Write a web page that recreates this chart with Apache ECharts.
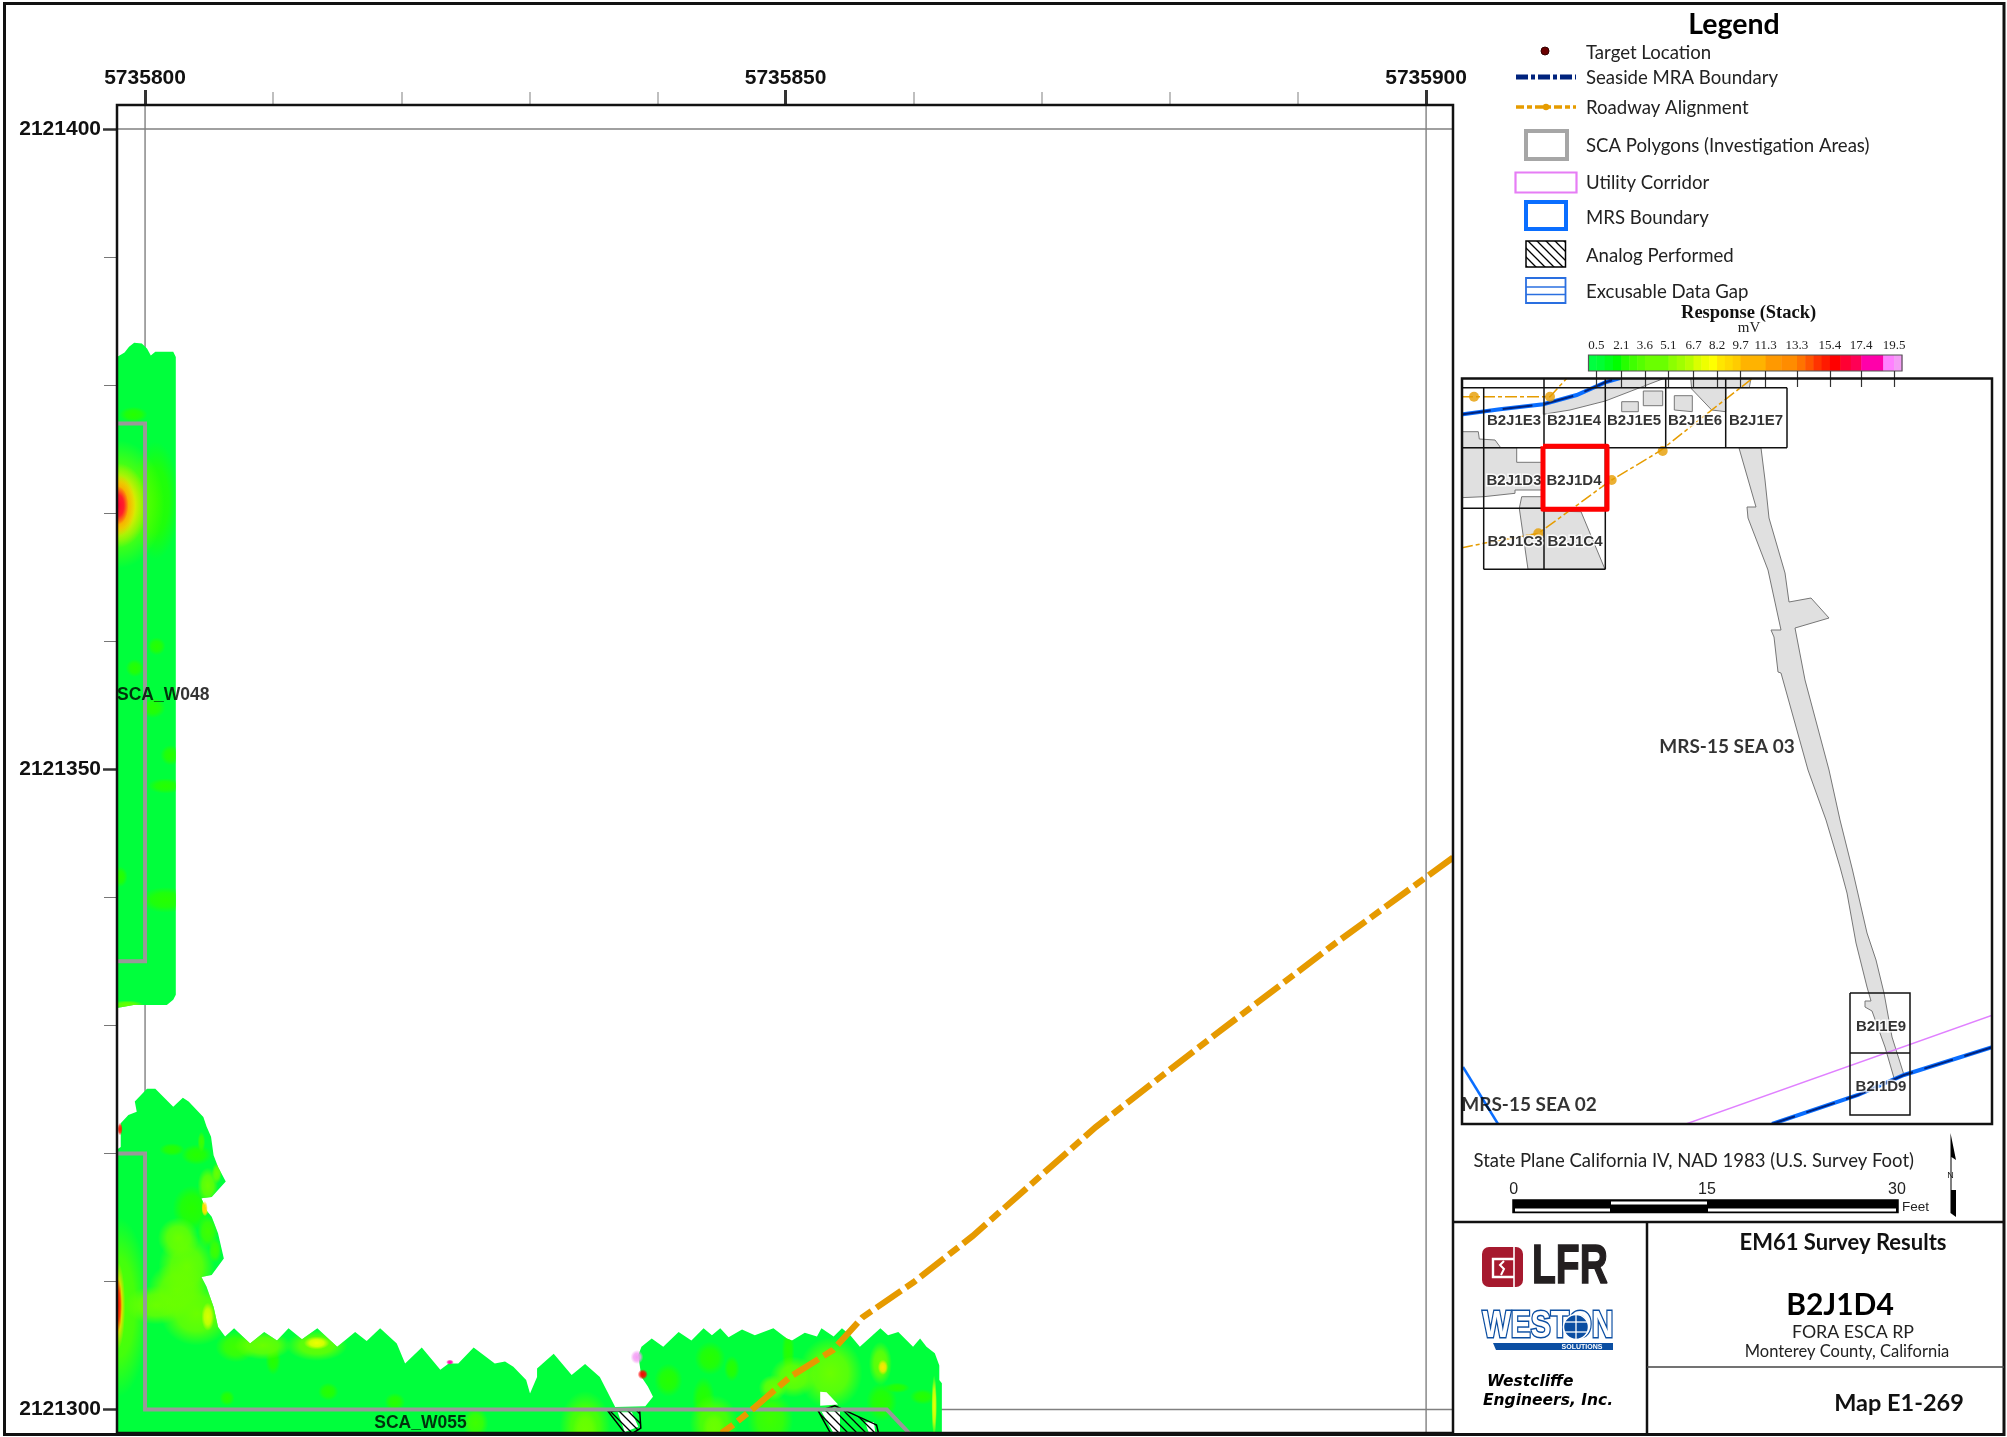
<!DOCTYPE html>
<html><head><meta charset="utf-8">
<style>html,body{margin:0;padding:0;background:#fff}#c{width:2007px;height:1437px}</style>
<script src="https://cdn.jsdelivr.net/npm/echarts@6/dist/echarts.min.js"></script>
</head><body><div id="c"></div>
<script>
// ---------- data: main map, feet relative to the tick origin ----------
const X0 = 5735800, Y0 = 2121300;
const xMajorTicks = [5735800, 5735850, 5735900];
const xMinorTicks = [5735810, 5735820, 5735830, 5735840, 5735860, 5735870, 5735880, 5735890];
const yMajorTicks = [2121300, 2121350, 2121400];
const yMinorTicks = [2121310, 2121320, 2121330, 2121340, 2121360, 2121370, 2121380, 2121390];
const gridLinesFt = [[[0,-1.83],[0,101.87]], [[100,-1.83],[100,101.87]], [[-2.19,100],[102.1,100]], [[-2.19,0],[102.1,0]]];

const surveyStrip = [[-2.19,82.2],[-1.6,82.55],[-1.25,83],[-0.85,83.3],[-0.25,83.25],[0.15,82.85],[0.45,82.3],[0.8,82.6],[2.2,82.6],[2.4,82.2],[2.4,32.4],[2.2,32],[1.7,31.6],[-0.9,31.6],[-2.19,31.35]];
const surveyL = [[-2.19,20.3],[-1.9,20.5],[-1.9,22.35],[-1.3,23],[-0.65,23.25],[-0.8,24.05],[0.15,25.05],[0.8,25.05],[2.2,23.65],[2.95,24.35],[3.4,24.05],[4.55,22.85],[4.8,22.1],[5.15,21.3],[5.35,19.85],[5.7,18.95],[6.3,17.8],[5.2,16.6],[4.4,16.5],[4.8,15.55],[5.2,15.05],[5.7,13.75],[6.15,11.8],[5.2,10.5],[4.4,10.35],[4.8,9.6],[5.35,8],[5.7,6.45],[6.25,5.7],[6.95,6.35],[8.2,5.15],[9.3,6.05],[10.3,5.4],[11.2,6.35],[12.25,5.5],[13.45,6.35],[14.3,5.55],[15,4.9],[16.4,6.05],[17.3,5.35],[18.35,6.35],[19.65,5.15],[20.3,3.6],[21.6,4.85],[23.05,3.1],[23.7,3.6],[24.45,3.6],[25.65,4.85],[27.3,3.6],[28.1,3.75],[28.75,3.35],[29.75,2.3],[30.05,1.25],[30.6,2.55],[30.6,3.2],[31.9,4.35],[33.3,2.7],[34.35,3.55],[35.5,2.55],[36.7,0.2],[39.05,0.25],[39.65,1],[39.25,1.8],[38.75,2.55],[38.5,4.25],[38.75,4.9],[39.55,5.55],[40.45,4.9],[41.65,6.05],[42.65,5.4],[43.6,6.35],[44.25,5.8],[44.9,6.35],[45.55,5.65],[46.6,6.25],[47.6,5.8],[49.05,6.35],[50.1,5.55],[50.5,5.4],[51.5,6],[52.45,5.7],[52.8,6.35],[53.75,5.7],[54.4,6.35],[55.05,5.8],[55.8,4.9],[57.4,6.35],[58,5.8],[58.8,6.05],[59.95,4.9],[60.5,5.55],[61,4.9],[61.65,4.4],[62,3.45],[62,2.3],[62.2,2.05],[62.2,-1.83],[-2.19,-1.83]];
// response anomalies: centre x, centre y, radius x, radius y (feet), peak mV
const stripAnomalies = [[0.8,71,1.9,4.6,2.4],[-2.1,70.7,3.6,5,4.6],[-2.1,70.6,2.3,3.3,8.5],[-2.1,70.6,1.35,2.4,12],[-2.1,70.6,0.8,1.5,16.5],[-0.8,57.9,0.7,0.7,2.3],[0.9,59.6,0.7,0.7,2.3],[2,51.1,0.8,0.8,2.3],[1.6,48.7,1.4,0.6,2.3],[0.6,54.8,1,0.8,2.3],[1.6,39.8,2,1,2.3],[-1.95,41.6,0.6,0.8,2.3],[-0.9,77.7,1.1,0.6,2.3],[-1.4,31.6,1.3,0.35,5]];
const lAnomalies = [[-2.1,8,2.4,7,3.4],[-2.1,8.1,0.55,3.4,9],[-2.1,8.15,0.3,2.1,15],[3.25,11.15,2.2,2.6,4.2],[2.5,9.3,2.3,2.2,4.2],[4,7.5,2.8,2.5,4.4],[0.9,8.15,2.5,1.5,3.8],[2.6,13.4,1.6,1.6,4.2],[3.65,15.7,1.5,1.8,2.4],[4.9,13.9,0.8,1.3,2.7],[5.45,12.45,0.5,1,3],[4.9,17.5,0.8,1.4,4],[5.6,18.45,0.4,0.8,5],[4.7,15.8,0.3,0.7,8],[4,19.9,1.2,0.8,2.3],[2.1,20.3,1,0.5,2.3],[4.4,20.9,0.3,0.8,2.7],[4.9,7.25,0.5,1.1,7],[9.2,5,2.2,1.1,4.2],[7.1,4.9,1.6,1.2,2.7],[13.4,5,2.4,1.2,5],[13.4,5.2,1,0.5,7.5],[10,3.9,0.6,1.2,2.3],[14.3,1.4,0.8,0.7,2.3],[6.4,0.9,0.6,0.6,2.3],[19.5,0.6,0.8,0.7,2.3],[25.8,-1.05,1,1.2,2.7],[44.1,4,1.2,1.3,2.3],[40.85,2.3,1.1,1.3,2.3],[45.8,3.2,0.6,1,2.3],[34.35,-1.35,2,2.8,3.5],[34.35,-1.6,1,1.5,4.5],[44.4,-1.05,1.9,2.2,3.5],[44.4,-1.4,0.9,1.1,5],[48.8,-0.8,1.8,2.2,2.7],[43.6,0.75,0.9,1.8,2.4],[49,1.7,1.1,1,4.5],[50.6,2.55,1.8,1.6,4.2],[53.5,2.85,2.5,2.8,4],[57.4,3.6,0.9,1.7,4.5],[57.6,3.3,0.4,0.6,8.5],[61.6,0.3,0.22,2.4,7.5],[60.7,1,1,0.6,2.4],[57.5,0.6,1.2,1.5,2.4],[50.2,4.5,0.5,2,2.3],[58.7,1.7,1,0.4,2.4]];
const specks = [[-1.95,21.9,0.2,0.5,15],[23.8,3.7,0.3,0.2,18],[38.4,4.1,0.5,0.55,19.7],[38.85,2.75,0.4,0.4,15.5],[4.65,15.7,0.25,0.6,9]];
const surveyHoles = [[[52.7,0.3],[52.7,1.4],[53.2,1.35],[54.1,0.4]]];
const analogGaps = [[[36.9,-0.2],[38,-0.2],[38.5,-1.35],[37.45,-1.75]],[[52.8,-0.15],[54.25,-0.15],[54.25,-1.75],[53.7,-1.75]],[[56.2,-1],[56.9,-1],[57,-1.8],[56.5,-1.8]]];
const analogAreas = [[[36.15,-0.15],[38.6,0.05],[38.7,-1.45],[38.1,-1.83],[37.45,-1.83]],[[52.55,-0.1],[53.85,0.3],[57.1,-1.2],[57.25,-1.83],[53.5,-1.83]]];
const scaPolygons = [[[-2.19,77],[0,77],[0,35],[-2.19,35]],[[-2.19,20],[0,20],[0,0],[57.9,0],[59.7,-1.9]]];
const roadway = [[102.1,43.1],[92.7,36.25],[83.7,29.4],[74.2,22.05],[64.6,13.55],[60,9.95],[56,7.2],[53.7,4.65],[50.35,2.55],[47.5,0.1],[45.9,-1.2],[45,-1.83]];
const mapLabels = [[-2.19,55.8,'SCA_W048','left'],[21.5,-1.05,'SCA_W055','center']];

// ---------- data: locator map, units from its top-left corner ----------
const locParcels = [
 [[82.3,27],[115.7,17],[144.3,4.3],[159,0],[204,0],[144.3,23],[109,32],[82.3,36.3]],
 [[0,53.7],[17.3,53.7],[18.3,61],[34,62],[39.7,69.7],[0,69.7]],
 [[0,69.7],[22.7,69.7],[22.7,118.7],[0,119.7]],
 [[22.7,69.7],[55.7,69.7],[55.7,84.3],[83,84.3],[83,112],[54,112],[54,115.3],[22.7,118.7]],
 [[60.7,118.7],[83,118.7],[83,130.3],[58.3,130.3]],
 [[58.3,130.3],[83,130.3],[83,133],[120,133.7],[144,191.3],[67,191.3]],
 [[160.7,33.7],[160.7,23.7],[177.3,23.7],[177.3,33.7]],
 [[182.3,13],[201.7,13],[201.7,27.7],[182.3,27.7]],
 [[213.3,17.7],[231.3,17.7],[231.3,33.7],[213.3,32]],
 [[229.7,0],[290,0],[288.3,9.7],[264.7,9.7],[264.7,33.7],[250.7,32],[230.7,11]],
 [[278,70],[295,129],[286,129],[287,140],[307,192],[320,252],[310,252],[313,259],[317,294],[320,295],[347,392],[365,442],[379,489],[386,515],[395,565],[406,609],[410,623],[404,623],[404,629],[411,633],[424,669],[433,700],[443,697],[431,659],[423,615],[415,582],[406,555],[391.5,492],[379,442],[368,392],[344,302],[334,250],[368,240],[350,220],[328,224],[324,195],[308,140],[304,102],[300,70]]
];
const locCells = [[[0,9.7],[326,9.7]],[[0,69.7],[326,69.7]],[[0,130.3],[144.3,130.3]],[[22.7,191.3],[144.3,191.3]],[[22.7,9.7],[22.7,191.3]],[[83,0],[83,191.3]],[[144.3,0],[144.3,191.3]],[[204.7,0],[204.7,69.7]],[[264.7,0],[264.7,69.7]],[[326,9.7],[326,69.7]],[[389,615],[449,615],[449,737],[389,737],[389,615]],[[389,675],[449,675]]];
const locRoads = [[[0,170],[22.7,165.3],[77.3,155.3],[114,128.7],[145.7,105.3],[150.7,102],[199,73],[250.7,32],[292,0]],[[0,18.7],[89,18.7],[106,0]]];
const locRoadMarks = [[13,18.7],[89,18.7],[201.7,73],[150.7,102],[77.3,155.3]];
const locMrsLines = [[[0,36.5],[39,31.3],[82.3,26.3],[115.7,17],[144.3,4.3],[159,0]],[[532,669],[443,697],[397,717],[311,746]]];
const locMrsEdge = [[[2,689],[37,746]]];
const locUtility = [[[532,637],[225,746]]];
const locSelected = [[[82,68.3],[146,68.3],[146,131.3],[82,131.3],[82,68.3]]];
const locCellLabels = [[53,43,'B2J1E3'],[113,43,'B2J1E4'],[173,43,'B2J1E5'],[234,43,'B2J1E6'],[295,43,'B2J1E7'],[53,103,'B2J1D3'],[113,103,'B2J1D4'],[54,164,'B2J1C3'],[114,164,'B2J1C4'],[420,649,'B2I1E9'],[420,709,'B2I1D9']];
const locAreaLabels = [[266,369,'MRS-15 SEA 03'],[68,727,'MRS-15 SEA 02']];

// ---------- data: colour ramp (mV) ----------
const rampTicks = [0.5,2.1,3.6,5.1,6.7,8.2,9.7,11.3,13.3,15.4,17.4,19.5];
const rampEdges = [0,0.5,1.03,1.56,2.1,2.6,3.1,3.6,5.1,5.63,6.16,6.7,7.2,7.7,8.2,8.7,9.2,9.7,11.3,12.3,13.3,13.82,14.35,14.87,15.4,16.07,16.73,17.4,18.8,19.5,20];
const rampColors = ['#00ff40','#00ff33','#00ff1a','#00ff00','#26ff00','#3fff00','#55ff00','#6aff00','#8cff00','#a0ff00','#b8ff00','#d9ff00','#eeff00','#ffff00','#ffe600','#ffd900','#ffcc00','#ffb300','#ff9900','#ff8c00','#ff7300','#ff5500','#ff3300','#ff1a00','#ff0000','#ff0033','#ff0055','#ff00aa','#ff80ff','#f49df5'];

// ---------- data: legend and title block text ----------
const legendRows = [[53,'Target Location'],[78,'Seaside MRA Boundary'],[108,'Roadway Alignment'],[146,'SCA Polygons (Investigation Areas)'],[183,'Utility Corridor'],[218,'MRS Boundary'],[256,'Analog Performed'],[292,'Excusable Data Gap']];
const titleRows = [[1843,1243,'EM61 Survey Results','bold 22px Lato','#111'],[1840,1305,'B2J1D4','bold 30px Lato','#000'],[1853,1332,'FORA ESCA RP','17.8px Lato','#222'],[1847,1352,'Monterey County, California','16.5px Lato','#222'],[1899,1403,'Map E1-269','bold 23.5px Lato','#111']];
const scaleTicks = [[1513.7,'0'],[1707,'15'],[1897,'30']];

// ---------- helpers ----------
const ft = p => [X0 + p[0], Y0 + p[1]];
function colorAt(v){ for(let i=0;i<rampColors.length;i++){ if(v<=rampEdges[i+1]) return rampColors[i]; } return rampColors[rampColors.length-1]; }
function rgba(hex,a){ const n=parseInt(hex.slice(1),16); return 'rgba('+(n>>16)+','+((n>>8)&255)+','+(n&255)+','+a+')'; }
function hatchCanvas(){ const c=document.createElement('canvas'); c.width=c.height=9; const g=c.getContext('2d'); g.strokeStyle='#000'; g.lineWidth=1.3; g.beginPath(); g.moveTo(-1,-1); g.lineTo(10,10); g.moveTo(8,-1); g.lineTo(10,1); g.moveTo(-1,8); g.lineTo(1,10); g.stroke(); return c; }
const hatch = {image:hatchCanvas(),repeat:'repeat'};

function shapes(gi,items,kind,style,z,map){
  const m = map||(p=>p);
  return {type:'custom',xAxisIndex:gi,yAxisIndex:gi,clip:true,silent:true,animation:false,z:z,
    data:items.map((_,i)=>[i,0]),
    renderItem:(params,api)=>({type:kind,shape:{points:items[params.dataIndex].map(p=>api.coord(m(p)))},style:style})};
}
function blobs(list,zone,z){
  const items = list.slice().sort((a,b)=>a[4]-b[4]);
  return {type:'custom',xAxisIndex:0,yAxisIndex:0,clip:true,silent:true,animation:false,z:z,
    data:items.map((_,i)=>[i,0]),
    renderItem:(params,api)=>{
      const b=items[params.dataIndex], c=api.coord(ft(b)), e=api.coord(ft([b[0]+b[2],b[1]+b[3]]));
      const col=colorAt(b[4]);
      const circle={type:'circle',x:c[0],y:c[1],scaleX:Math.abs(e[0]-c[0])/100,scaleY:Math.abs(e[1]-c[1])/100,shape:{cx:0,cy:0,r:100},
        style:{fill:new echarts.graphic.RadialGradient(0.5,0.5,0.5,[{offset:0,color:rgba(col,1)},{offset:0.55,color:rgba(col,0.8)},{offset:1,color:rgba(col,0)}])}};
      if(!zone) return circle;
      return {type:'group',clipPath:{type:'polygon',shape:{points:zone.map(p=>api.coord(ft(p)))}},children:[circle]};
    }};
}
const gtext=(x,y,t,font,fill,align)=>({type:'text',x:x,y:y,z:60,silent:true,style:{text:t,font:font,fill:fill||'#222',textAlign:align||'left',textVerticalAlign:'middle'}});
const grect=(x,y,w,h,style,z)=>({type:'rect',z:z||55,silent:true,shape:{x:x,y:y,width:w,height:h},style:style});
const gline=(pts,style,z)=>({type:'polyline',z:z||55,silent:true,shape:{points:pts},style:style});
const noFill=(c,w)=>({fill:'none',stroke:c,lineWidth:w});

// ---------- page furniture ----------
const graphics = [
  grect(4.5,3.5,1999.5,1431,noFill('#111',3),80),
  grect(117,105,1336,1328,noFill('#111',2.5),80),
  gline([[1453,1222],[2004,1222]],{stroke:'#111',lineWidth:2.5,fill:'none'},80),
  gline([[1647,1222],[1647,1434]],{stroke:'#111',lineWidth:2.5,fill:'none'},80),
  gline([[1647,1367],[2004,1367]],{stroke:'#444',lineWidth:1.5,fill:'none'},80),
  grect(1462,378.5,530,745.5,noFill('#111',2.5),80),
  gtext(1734,25,'Legend','bold 28.5px Lato','#000','center'),
  {type:'circle',z:55,silent:true,shape:{cx:1545,cy:51,r:4},style:{fill:'#6b0000',stroke:'#300',lineWidth:1}},
  gline([[1516,77],[1576,77]],{stroke:'#00237d',lineWidth:5,lineDash:[12,3,4,3],fill:'none'}),
  gline([[1516,107],[1576,107]],{stroke:'#e69c00',lineWidth:3.5,lineDash:[8,3,5,3],fill:'none'}),
  {type:'circle',z:56,silent:true,shape:{cx:1546,cy:107,r:3.2},style:{fill:'#e69c00'}},
  grect(1526,131,41,28,noFill('#a6a6a6',4)),
  grect(1515.5,172.5,61,20,noFill('#e67df5',2.2)),
  grect(1526,202,40,27,noFill('#0a6eff',4)),
  grect(1526,241,39.5,26,{fill:hatch,stroke:'#000',lineWidth:1.5}),
  grect(1526,278,39.5,25,{fill:'#fff',stroke:'#2a6fe0',lineWidth:1.8}),
  gline([[1526,287],[1565.5,287]],{stroke:'#2a6fe0',lineWidth:1.5,fill:'none'}),
  gline([[1526,294.5],[1565.5,294.5]],{stroke:'#2a6fe0',lineWidth:1.5,fill:'none'}),
  gtext(1748.6,313,'Response (Stack)','bold 18.5px "Liberation Serif"','#111','center'),
  gtext(1749,328,'mV','15px "Liberation Serif"','#222','center'),
  gtext(1473.6,1161,'State Plane California IV, NAD 1983 (U.S. Survey Foot)','18.5px Lato','#222'),
  gtext(1902,1207,'Feet','13.5px "Liberation Sans"','#222'),
  grect(1513,1200,385,12.5,{fill:'#000',stroke:'#000',lineWidth:1.5}),
  grect(1611,1201.5,96,3,{fill:'#fff'}),
  grect(1515,1208.5,95,3,{fill:'#fff'}),
  grect(1708,1208.5,188,3,{fill:'#fff'}),
  {type:'polygon',z:55,silent:true,shape:{points:[[1950.5,1133],[1956,1160],[1951.5,1157],[1951.5,1190],[1956,1190],[1956,1217],[1950.5,1213]]},style:{fill:'#000'}},
  gtext(1950.5,1176,'N','9px "Liberation Sans"','#222','center'),
  // logos
  {type:'rect',z:55,silent:true,shape:{x:1482,y:1247,width:41,height:40,r:7},style:{fill:'#a6192e'}},
  gline([[1514,1259],[1493,1259],[1493,1277],[1514,1277]],{stroke:'#fff',lineWidth:2.4,fill:'none'},56),
  gline([[1514,1247],[1514,1287]],{stroke:'#fff',lineWidth:1.6,fill:'none'},56),
  gline([[1504,1261],[1500,1265],[1504,1269],[1501,1275]],{stroke:'#fff',lineWidth:2,fill:'none'},58),
  {type:'text',z:60,silent:true,x:1532,y:1268,scaleX:0.71,style:{text:'LFR',font:'bold 55px "Liberation Sans"',fill:'#231f20',stroke:'#231f20',lineWidth:1.5,textVerticalAlign:'middle'}},
  {type:'text',z:60,silent:true,x:1548,y:1327,scaleX:0.81,style:{text:'WESTON',font:'bold 37px "Liberation Sans"',fill:'#fff',stroke:'#0b4ea2',lineWidth:3,textAlign:'center',textVerticalAlign:'middle'}},
  {type:'circle',z:61,silent:true,shape:{cx:1576,cy:1327,r:12.5},style:{fill:'#0b4ea2',stroke:'#fff',lineWidth:1.5}},
  gline([[1564,1322],[1588,1322]],{stroke:'#fff',lineWidth:1.3,fill:'none'},62),
  gline([[1564,1332],[1588,1332]],{stroke:'#fff',lineWidth:1.3,fill:'none'},62),
  gline([[1576,1315],[1576,1339]],{stroke:'#fff',lineWidth:1.3,fill:'none'},62),
  {type:'polygon',z:58,silent:true,shape:{points:[[1493,1343],[1613,1343],[1613,1350],[1496,1350]]},style:{fill:'#0b4ea2'}},
  gtext(1582,1347,'SOLUTIONS','bold 7px "Liberation Sans"','#fff','center'),
  gtext(1487,1382,'Westcliffe','italic bold 15.5px "DejaVu Sans"','#000'),
  gtext(1483,1401,'Engineers, Inc.','italic bold 15.5px "DejaVu Sans"','#000')
];
legendRows.forEach(r=>graphics.push(gtext(1586,r[0],r[1],'18.6px Lato','#222')));
titleRows.forEach(r=>graphics.push(gtext(r[0],r[1],r[2],r[3],r[4],'center')));
scaleTicks.forEach(r=>graphics.push(gtext(r[0],1190,r[1],'16px "Liberation Sans"','#222','center')));

// ---------- series ----------
const rampCells = rampColors.map((c,i)=>[rampEdges[i],rampEdges[i+1]]);
const sansBold = {fontFamily:'"Liberation Sans"',fontWeight:'bold'};
const series = [
  shapes(0,gridLinesFt,'polyline',{stroke:'#808080',lineWidth:1.4,fill:'none'},1,ft),
  shapes(0,[surveyStrip,surveyL],'polygon',{fill:'#00ff3c'},2,ft),
  blobs(stripAnomalies,surveyStrip,3),
  blobs(lAnomalies,surveyL,3),
  blobs(specks,null,4),
  shapes(0,surveyHoles,'polygon',{fill:'#fff'},4,ft),
  shapes(0,analogGaps,'polygon',{fill:'#fff'},5,ft),
  shapes(0,analogAreas,'polygon',{fill:hatch,stroke:'#000',lineWidth:1.5},6,ft),
  shapes(0,scaPolygons,'polyline',{stroke:'#999',lineWidth:4,fill:'none',lineJoin:'miter'},7,ft),
  shapes(0,[roadway],'polyline',{stroke:'#e69a00',lineWidth:6.3,fill:'none',lineDash:[30,6,12,6]},8,ft),
  {type:'scatter',xAxisIndex:0,yAxisIndex:0,symbolSize:0,silent:true,animation:false,z:9,
    data:mapLabels.map(l=>({value:ft(l),label:{show:true,formatter:l[2],position:'inside',align:l[3],verticalAlign:'middle',...sansBold,fontSize:17.5,color:'#000'}}))},
  // locator
  shapes(1,locParcels,'polygon',{fill:'#e0e0e0',stroke:'#777',lineWidth:1},1),
  shapes(1,locUtility,'polyline',{stroke:'#e080ff',lineWidth:1.4,fill:'none'},2),
  shapes(1,locMrsEdge,'polyline',{stroke:'#0a6eff',lineWidth:2.5,fill:'none'},2),
  shapes(1,locMrsLines,'polyline',{stroke:'#0a6eff',lineWidth:4,fill:'none'},2),
  shapes(1,locMrsLines,'polyline',{stroke:'#00237d',lineWidth:2,fill:'none',lineDash:[30,12]},3),
  shapes(1,locRoads,'polyline',{stroke:'#e69c00',lineWidth:1.5,fill:'none',lineDash:[12,3,4,3]},3),
  {type:'scatter',xAxisIndex:1,yAxisIndex:1,symbolSize:10,silent:true,animation:false,z:3,itemStyle:{color:'#e69c00'},data:locRoadMarks},
  shapes(1,locCells,'polyline',{stroke:'#111',lineWidth:1.5,fill:'none'},4),
  {type:'scatter',xAxisIndex:1,yAxisIndex:1,symbolSize:0,silent:true,animation:false,z:6,
    data:locCellLabels.map(l=>({value:[l[0],l[1]],label:{show:true,formatter:l[2],position:'inside',...sansBold,fontSize:15,color:'#000',textBorderColor:'#fff',textBorderWidth:3}}))},
  shapes(1,locSelected,'polyline',{stroke:'#ff0000',lineWidth:5,fill:'none',lineJoin:'round'},7),
  {type:'scatter',xAxisIndex:1,yAxisIndex:1,symbolSize:0,silent:true,animation:false,z:8,
    data:locAreaLabels.map(l=>({value:[l[0],l[1]],label:{show:true,formatter:l[2],position:'inside',fontFamily:'Lato',fontWeight:'bold',fontSize:19,color:'#000'}}))},
  // colour ramp
  {type:'custom',xAxisIndex:2,yAxisIndex:2,silent:true,animation:false,z:2,data:rampCells.map((c,i)=>[c[0],c[1],i]),
    renderItem:(params,api)=>{const a=api.coord([api.value(0),0]),b=api.coord([api.value(1),1]);
      return {type:'rect',shape:{x:a[0],y:b[1],width:b[0]-a[0]+0.5,height:a[1]-b[1]},style:{fill:rampColors[api.value(2)]}};}}
];

const axisOff = {show:false};
const option = {
  animation:false,backgroundColor:'#fff',
  grid:[
    {left:117,top:105,width:1336,height:1328},
    {left:1461,top:378,width:532,height:746},
    {left:1588.5,top:355,width:313.5,height:16,show:true,borderColor:'#555',borderWidth:1.2,z:5}
  ],
  xAxis:[
    {gridIndex:0,type:'value',position:'top',min:X0-2.19,max:X0+102.1,splitLine:axisOff,axisLine:axisOff,
      axisTick:{show:true,length:15,customValues:xMajorTicks,lineStyle:{color:'#333',width:3}},
      axisLabel:{show:true,margin:16.5,customValues:xMajorTicks,formatter:v=>String(v),...sansBold,fontSize:21,color:'#111'}},
    {gridIndex:1,type:'value',min:0,max:532,show:false},
    {gridIndex:2,type:'value',position:'top',z:10,min:0,max:20,splitLine:axisOff,axisLine:axisOff,
      axisTick:{show:true,inside:true,length:16,customValues:rampTicks,lineStyle:{color:'#333',width:1.2}},
      axisLabel:{show:true,margin:3,customValues:rampTicks,formatter:v=>v.toFixed(1),fontFamily:'"Liberation Serif"',fontSize:13,color:'#222'}},
    {gridIndex:0,type:'value',position:'top',min:X0-2.19,max:X0+102.1,splitLine:axisOff,axisLine:axisOff,
      axisTick:{show:true,length:13,customValues:xMinorTicks,lineStyle:{color:'#aaa',width:1.5}},axisLabel:axisOff}
  ],
  yAxis:[
    {gridIndex:0,type:'value',position:'left',min:Y0-1.83,max:Y0+101.87,splitLine:axisOff,axisLine:axisOff,
      axisTick:{show:true,length:14,customValues:yMajorTicks,lineStyle:{color:'#333',width:2.5}},
      axisLabel:{show:true,margin:16,customValues:yMajorTicks,formatter:v=>String(v),...sansBold,fontSize:21,color:'#111'}},
    {gridIndex:1,type:'value',min:0,max:746,inverse:true,show:false},
    {gridIndex:2,type:'value',min:0,max:1,show:false},
    {gridIndex:0,type:'value',position:'left',min:Y0-1.83,max:Y0+101.87,splitLine:axisOff,axisLine:axisOff,
      axisTick:{show:true,length:13,customValues:yMinorTicks,lineStyle:{color:'#777',width:1}},axisLabel:axisOff}
  ],
  series:series,
  graphic:{elements:graphics}
};
const chart = echarts.init(document.getElementById('c'),null,{renderer:'canvas',width:2007,height:1437});
chart.setOption(option);
</script></body></html>
